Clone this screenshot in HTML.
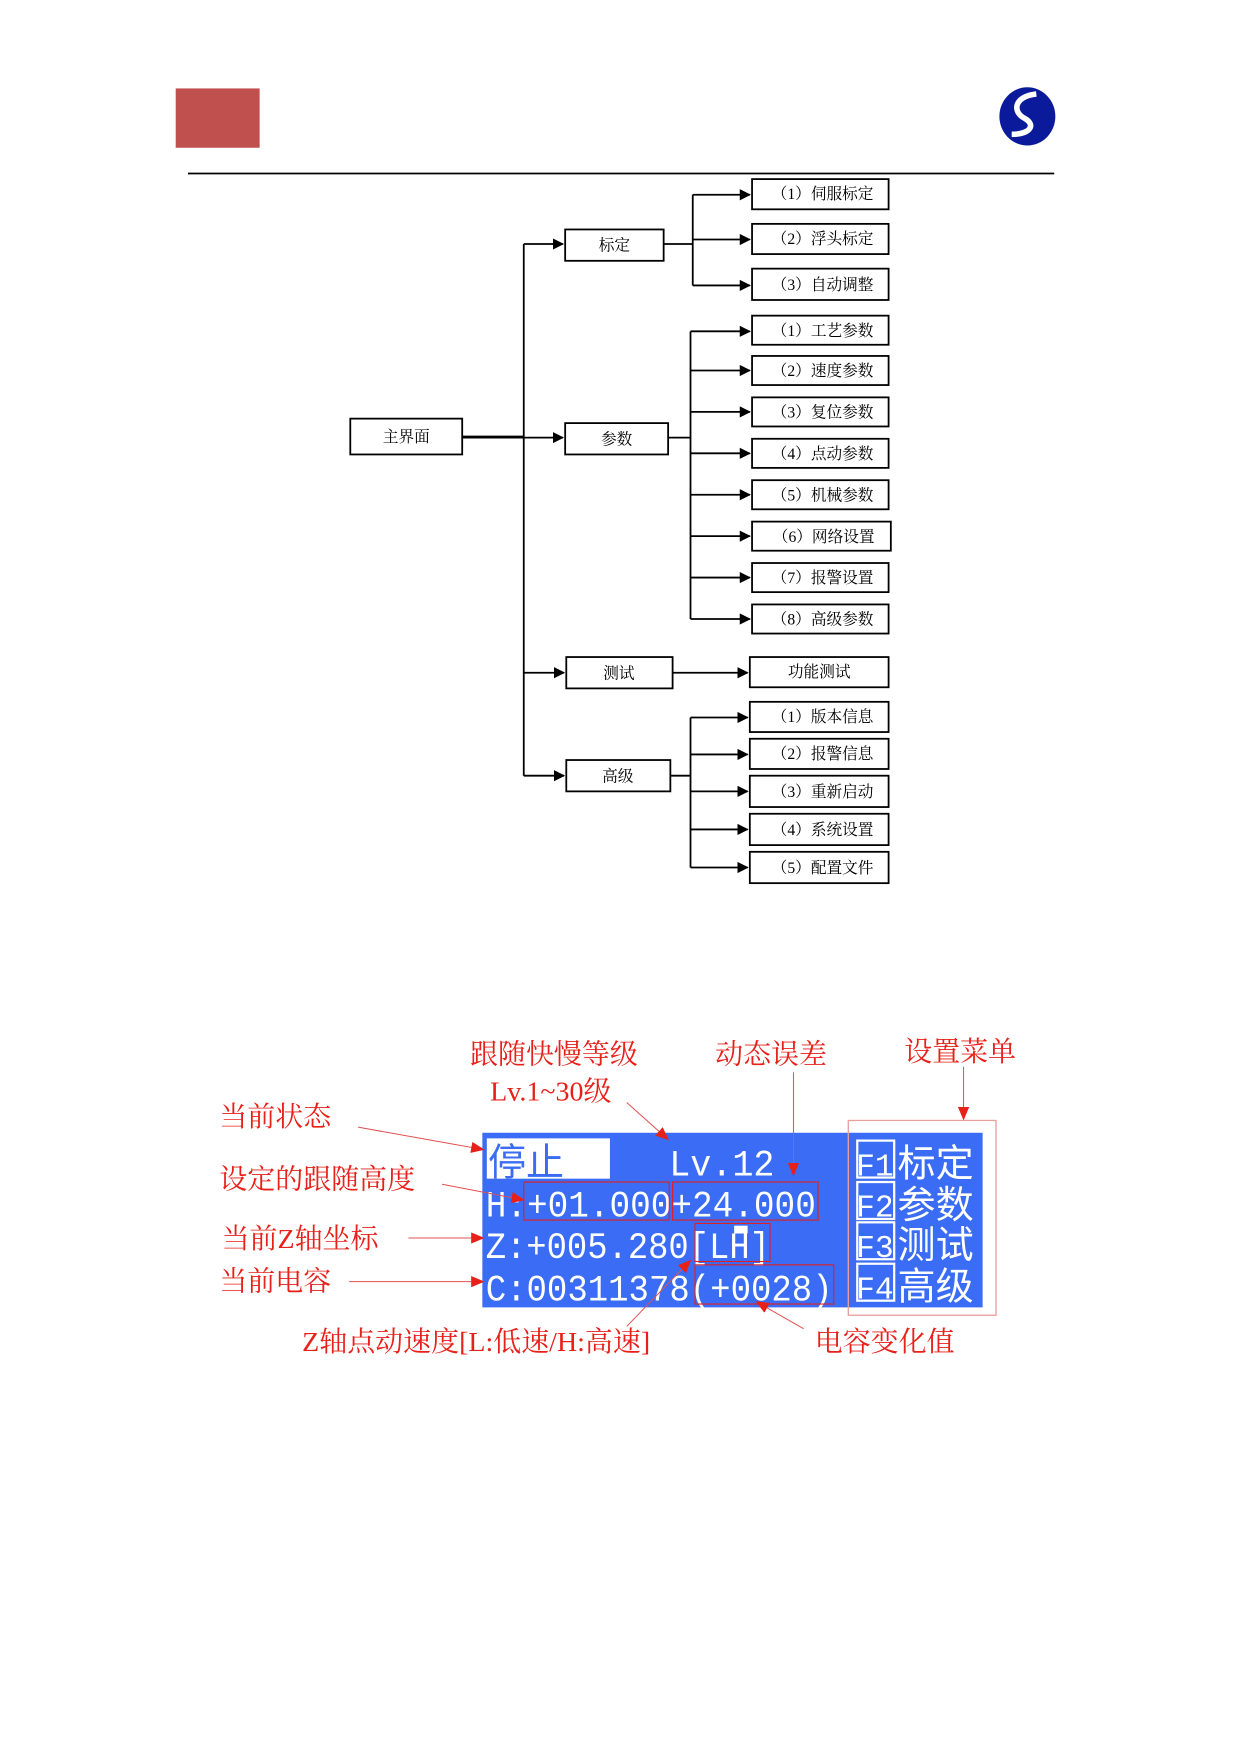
<!DOCTYPE html>
<html><head><meta charset="utf-8"><style>
html,body{margin:0;padding:0;background:#fff;}
svg{display:block}
.b{fill:#fff;stroke:#000;stroke-width:1.6}
.t{font-family:"Liberation Serif","Noto Serif CJK SC",serif;font-size:14px;fill:#000;text-anchor:middle}
.l{stroke:#000;stroke-width:1.6;fill:none}
.r{font-family:"Liberation Serif","Noto Serif CJK SC",serif;font-size:25px;fill:#e8201a}
.rl{stroke:#e05050;stroke-width:0.9;fill:none}
.w{font-family:"Liberation Mono","Noto Sans CJK SC",monospace;fill:#fff;font-size:33px}
</style></head><body>
<svg width="1240" height="1754" viewBox="0 0 1108 1567" preserveAspectRatio="none" xmlns="http://www.w3.org/2000/svg">
<defs>
<marker id="a" markerWidth="10" markerHeight="10" refX="9" refY="5" orient="auto" markerUnits="userSpaceOnUse"><path d="M0,0 L10,5 L0,10 z" fill="#000"/></marker>
<marker id="ra" markerWidth="12" markerHeight="10" refX="11" refY="5" orient="auto" markerUnits="userSpaceOnUse"><path d="M0,0 L12,5 L0,10 z" fill="#e8201a"/></marker>
</defs>
<rect x="157" y="79" width="75" height="53" fill="#c0504d"/>
<ellipse cx="918" cy="104" rx="25" ry="26" fill="#0a1a9a"/>
<path d="M926,84 C906,86 904,100 916,106 C926,112 920,120 904,120" stroke="#fff" stroke-width="5" fill="none"/>
<line x1="168" y1="155" x2="942" y2="155" stroke="#000" stroke-width="1.5"/>

<rect class="b" x="313" y="374" width="100" height="32"/><text class="t" x="363" y="395">主界面</text>
<path class="l" d="M413,390 H468 M468,218 V693"/>
<path class="l" d="M468,218 H503" marker-end="url(#a)"/>
<path class="l" d="M413,391 H503" marker-end="url(#a)"/>
<path class="l" d="M468,601 H504" marker-end="url(#a)"/>
<path class="l" d="M468,693 H504" marker-end="url(#a)"/>
<rect class="b" x="505" y="205" width="88" height="28"/><text class="t" x="549" y="224">标定</text>
<rect class="b" x="505" y="378" width="92" height="28"/><text class="t" x="551" y="397">参数</text>
<rect class="b" x="506" y="587" width="95" height="28"/><text class="t" x="553" y="606">测试</text>
<rect class="b" x="506" y="679" width="93" height="28"/><text class="t" x="552" y="698">高级</text>

<path class="l" d="M593,218 H619 M619,174 V255"/>
<path class="l" d="M619,174 H670" marker-end="url(#a)"/>
<path class="l" d="M619,214 H670" marker-end="url(#a)"/>
<path class="l" d="M619,255 H670" marker-end="url(#a)"/>
<rect class="b" x="672" y="160" width="122" height="27"/><text class="t" x="735" y="178">（1）伺服标定</text>
<rect class="b" x="672" y="200" width="122" height="27"/><text class="t" x="735" y="218">（2）浮头标定</text>
<rect class="b" x="672" y="240" width="122" height="28"/><text class="t" x="735" y="259">（3）自动调整</text>

<path class="l" d="M597,391 H617 M617,296 V553"/>
<g>
<path class="l" d="M617,296 H670" marker-end="url(#a)"/>
<path class="l" d="M617,331 H670" marker-end="url(#a)"/>
<path class="l" d="M617,368 H670" marker-end="url(#a)"/>
<path class="l" d="M617,405 H670" marker-end="url(#a)"/>
<path class="l" d="M617,442 H670" marker-end="url(#a)"/>
<path class="l" d="M617,479 H670" marker-end="url(#a)"/>
<path class="l" d="M617,516 H670" marker-end="url(#a)"/>
<path class="l" d="M617,553 H670" marker-end="url(#a)"/>
</g>
<rect class="b" x="672" y="282" width="122" height="26"/><text class="t" x="735" y="300">（1）工艺参数</text>
<rect class="b" x="672" y="318" width="122" height="26"/><text class="t" x="735" y="336">（2）速度参数</text>
<rect class="b" x="672" y="355" width="122" height="26"/><text class="t" x="735" y="373">（3）复位参数</text>
<rect class="b" x="672" y="392" width="122" height="26"/><text class="t" x="735" y="410">（4）点动参数</text>
<rect class="b" x="672" y="429" width="122" height="26"/><text class="t" x="735" y="447">（5）机械参数</text>
<rect class="b" x="672" y="466" width="124" height="26"/><text class="t" x="736" y="484">（6）网络设置</text>
<rect class="b" x="672" y="503" width="122" height="26"/><text class="t" x="735" y="521">（7）报警设置</text>
<rect class="b" x="672" y="540" width="122" height="26"/><text class="t" x="735" y="558">（8）高级参数</text>

<path class="l" d="M601,601 H668" marker-end="url(#a)"/>
<rect class="b" x="670" y="587" width="124" height="27"/><text class="t" x="732" y="605">功能测试</text>

<path class="l" d="M599,693 H617 M617,641 V775"/>
<path class="l" d="M617,641 H668" marker-end="url(#a)"/>
<path class="l" d="M617,674 H668" marker-end="url(#a)"/>
<path class="l" d="M617,707 H668" marker-end="url(#a)"/>
<path class="l" d="M617,741 H668" marker-end="url(#a)"/>
<path class="l" d="M617,775 H668" marker-end="url(#a)"/>
<rect class="b" x="670" y="627" width="124" height="27"/><text class="t" x="735" y="645">（1）版本信息</text>
<rect class="b" x="670" y="660" width="124" height="27"/><text class="t" x="735" y="678">（2）报警信息</text>
<rect class="b" x="670" y="693" width="124" height="28"/><text class="t" x="735" y="712">（3）重新启动</text>
<rect class="b" x="670" y="727" width="124" height="28"/><text class="t" x="735" y="746">（4）系统设置</text>
<rect class="b" x="670" y="761" width="124" height="28"/><text class="t" x="735" y="780">（5）配置文件</text>

<rect x="431" y="1012" width="447" height="156" fill="#3a6cf5"/>
<rect x="758" y="1001" width="132" height="174" fill="none" stroke="#e8a0a0" stroke-width="1.2"/>
<rect x="435" y="1017" width="110" height="36" fill="#fff"/>
<text x="436" y="1050" font-family="'Noto Sans CJK SC',sans-serif" font-size="34" fill="#3a6cf5">停止</text>
<text class="w" x="598" y="1050" textLength="94" lengthAdjust="spacingAndGlyphs">Lv.12</text>
<text class="w" x="434" y="1087" textLength="295" lengthAdjust="spacingAndGlyphs">H:+01.000+24.000</text>
<text class="w" x="434" y="1124" textLength="254" lengthAdjust="spacingAndGlyphs">Z:+005.280[LH]</text>
<rect x="656" y="1095" width="12" height="7" fill="#fff"/>
<text class="w" x="434" y="1162" textLength="310" lengthAdjust="spacingAndGlyphs">C:00311378(+0028)</text>
<g font-family="'Noto Sans CJK SC',sans-serif" font-size="34" fill="#fff">
<text x="765" y="1050" font-size="28" font-family="Liberation Mono,monospace">F1</text><text x="802" y="1051">标定</text>
<text x="765" y="1087" font-size="28" font-family="Liberation Mono,monospace">F2</text><text x="802" y="1088">参数</text>
<text x="765" y="1123" font-size="28" font-family="Liberation Mono,monospace">F3</text><text x="802" y="1124">测试</text>
<text x="765" y="1160" font-size="28" font-family="Liberation Mono,monospace">F4</text><text x="802" y="1161">高级</text>
</g>
<g fill="none" stroke="#fff" stroke-width="2">
<rect x="766" y="1019" width="33" height="33"/><rect x="766" y="1056" width="33" height="33"/>
<rect x="766" y="1092" width="33" height="33"/><rect x="766" y="1129" width="33" height="33"/>
</g>
<g fill="none" stroke="#e02020" stroke-width="1">
<rect x="468" y="1056" width="130" height="34"/><rect x="601" y="1056" width="130" height="34"/>
<rect x="621" y="1093" width="67" height="34"/><rect x="621" y="1130" width="124" height="35"/>
</g>

<text class="r" x="420" y="950">跟随快慢等级</text>
<text class="r" x="438" y="983">Lv.1~30级</text>
<text class="r" x="639" y="950">动态误差</text>
<text class="r" x="808" y="948">设置菜单</text>
<text class="r" x="196" y="1006">当前状态</text>
<text class="r" x="196" y="1062">设定的跟随高度</text>
<text class="r" x="198" y="1115">当前Z轴坐标</text>
<text class="r" x="196" y="1153">当前电容</text>
<text class="r" x="270" y="1207">Z轴点动速度[L:低速/H:高速]</text>
<text class="r" x="728" y="1207">电容变化值</text>
<path class="rl" d="M320,1007 L432,1027" marker-end="url(#ra)"/>
<path class="rl" d="M560,985 L597,1018" marker-end="url(#ra)"/>
<path class="rl" d="M709,958 V1050" marker-end="url(#ra)"/>
<path class="rl" d="M861,953 V1000" marker-end="url(#ra)"/>
<path class="rl" d="M395,1058 L468,1072" marker-end="url(#ra)"/>
<path class="rl" d="M365,1106 H432" marker-end="url(#ra)"/>
<path class="rl" d="M312,1145 H432" marker-end="url(#ra)"/>
<path class="rl" d="M560,1185 L617,1126" marker-end="url(#ra)"/>
<path class="rl" d="M718,1187 L676,1163" marker-end="url(#ra)"/>
</svg>
</body></html>
